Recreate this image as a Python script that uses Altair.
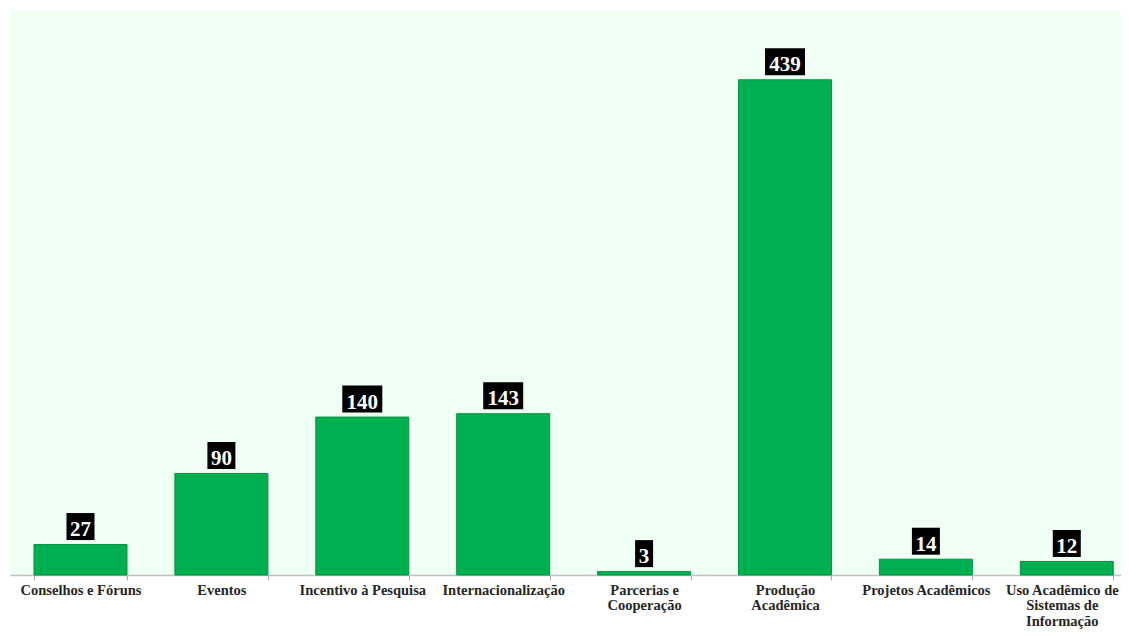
import altair as alt
import pandas as pd

categories = [
    "Conselhos e Fóruns",
    "Eventos",
    "Incentivo à Pesquisa",
    "Internacionalização",
    "Parcerias e\nCooperação",
    "Produção\nAcadêmica",
    "Projetos Acadêmicos",
    "Uso Acadêmico de\nSistemas de\nInformação",
]
values = [27, 90, 140, 143, 3, 439, 14, 12]

df = pd.DataFrame({"cat": categories, "value": values})

FONT = "'Liberation Serif', 'Times New Roman', serif"
W, H = 1111, 564
YMAX = 500
U = YMAX / H  # data units per pixel
GAP, BOXH = 4.5, 27

x_scale = alt.Scale(paddingInner=0.34, paddingOuter=0.1125, align=0.757)
x_enc = alt.X(
    "cat:N",
    sort=categories,
    title=None,
    scale=x_scale,
    axis=alt.Axis(
        labelAngle=0,
        labelExpr="split(datum.label, '\\n')",
        labelFont=FONT,
        labelFontWeight="bold",
        labelFontSize=14.5,
        labelColor="#262626",
        labelLineHeight=15.5,
        labelPadding=3,
        labelLimit=300,
        labelOverlap=False,
        labelOffset={
            "condition": {"test": "indexof(datum.label, 'Uso') == 0", "value": -5},
            "value": 0,
        },
        tickBand="extent",
        tickSize=5,
        tickColor="#a6a6a6",
        domainColor="#bfbfbf",
        domainWidth=1.5,
        grid=False,
    ),
)
y_scale = alt.Scale(domain=[0, YMAX], nice=False, zero=True)

base = alt.Chart(df)

bars = base.mark_bar(color="#00b050", stroke="#009242", strokeWidth=1).encode(
    x=x_enc,
    y=alt.Y("value:Q", scale=y_scale, axis=None),
)

boxed = base.transform_calculate(
    lo=f"datum.value + {GAP * U}",
    hi=f"datum.value + {(GAP + BOXH) * U}",
    n="length(toString(datum.value))",
)

boxes = []
for nd, w in [(1, 18), (2, 28), (3, 40)]:
    boxes.append(
        boxed.transform_filter(f"datum.n == {nd}")
        .mark_bar(color="black", width=w)
        .encode(
            x=alt.X("cat:N", sort=categories, scale=x_scale),
            y=alt.Y("lo:Q", scale=y_scale),
            y2="hi:Q",
        )
    )

labels = boxed.mark_text(
    font=FONT,
    fontWeight="bold",
    fontSize=21,
    color="white",
    baseline="alphabetic",
    align="center",
    dy=-4,
).encode(
    x=alt.X("cat:N", sort=categories, scale=x_scale),
    y=alt.Y("lo:Q", scale=y_scale),
    text="value:Q",
)

chart = (
    alt.layer(bars, *boxes, labels)
    .properties(
        width=W,
        height=H,
        autosize=alt.AutoSizeParams(type="none"),
        padding={"left": 2, "top": 3, "right": 0, "bottom": 54},
        background="white",
    )
    .configure_view(fill="#f0fff4", stroke=None)
)

chart.save("out.html", embed_options={"renderer": "svg", "actions": False})
